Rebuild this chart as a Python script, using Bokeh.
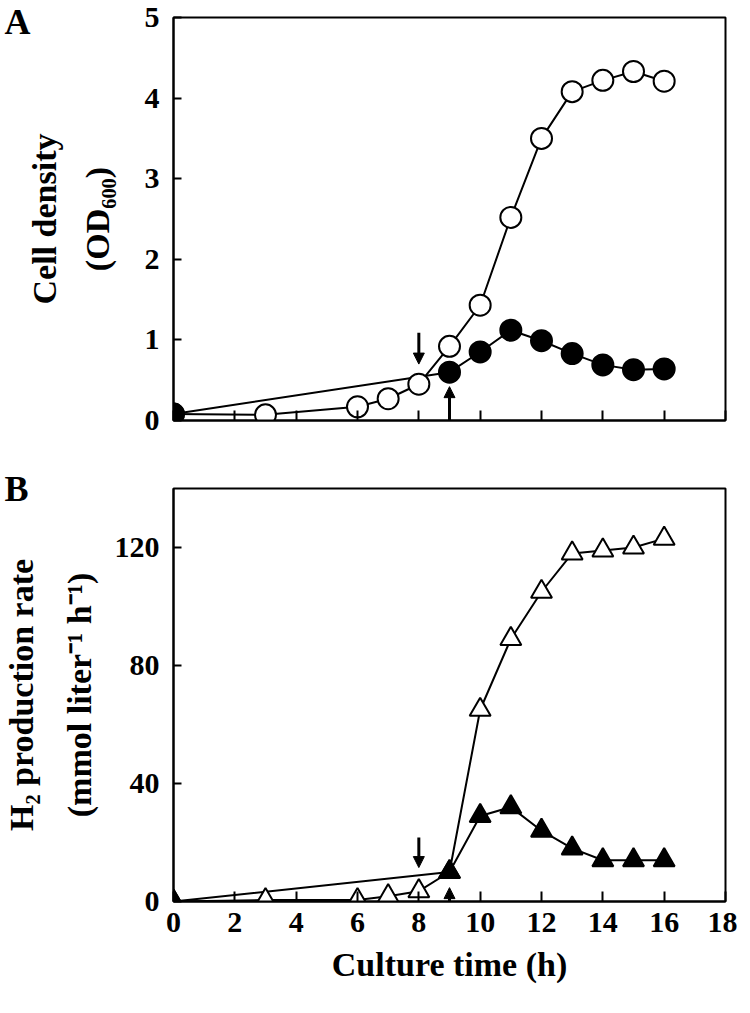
from bokeh.plotting import figure
from bokeh.models import LinearAxis, FixedTicker, Arrow, NormalHead, Range1d
from bokeh.layouts import column
from bokeh.embed import file_html
from bokeh.resources import INLINE

# ---------------- data ----------------
time_open = [0, 3, 6, 7, 8, 9, 10, 11, 12, 13, 14, 15, 16]
od_open = [0.08, 0.07, 0.17, 0.27, 0.45, 0.92, 1.43, 2.52, 3.50, 4.08, 4.22, 4.33, 4.21]
h2_open = [0, 0.5, 0.5, 1.8, 3.5, 10, 65, 89, 105, 118, 119, 120, 123]

time_filled = [0, 9, 10, 11, 12, 13, 14, 15, 16]
od_filled = [0.08, 0.60, 0.85, 1.12, 0.99, 0.83, 0.69, 0.63, 0.64]
h2_filled = [0, 10, 29, 32, 24, 18, 14, 14, 14]

x_ticks = [0, 2, 4, 6, 8, 10, 12, 14, 16, 18]
od_ticks = [0, 1, 2, 3, 4, 5]
h2_ticks = [0, 40, 80, 120]

# arrows: (x, y_start, y_end)
arrows_a = [(8, 1.09, 0.70), (9, 0.0, 0.42)]
arrows_b = [(8, 21.7, 11.5), (9, -6.0, 4.7)]

# panel letters (placed as tick labels of an outer, line-less axis)
panel_a_y = 4.95
panel_b_y = 140

FONT = "Liberation Serif"
TICK_FS = "30px"
LABEL_FS = "34px"
LETTER_FS = "36px"


def style_axis(ax, tick_in):
    ax.axis_line_width = 2
    ax.axis_line_color = "black"
    ax.major_tick_in = tick_in
    ax.major_tick_out = 0
    ax.major_tick_line_width = 2
    ax.major_tick_line_color = "black"
    ax.minor_tick_line_color = None
    ax.major_label_text_font = FONT
    ax.major_label_text_font_style = "bold"
    ax.major_label_text_font_size = TICK_FS
    ax.major_label_text_color = "black"
    ax.axis_label_text_font = FONT
    ax.axis_label_text_font_style = "bold"
    ax.axis_label_text_font_size = LABEL_FS
    ax.axis_label_text_color = "black"


def outer_label_axis(text, letter, letter_y, letter_standoff, label_standoff):
    ax = LinearAxis(ticker=FixedTicker(ticks=[letter_y]), axis_label=text)
    ax.major_label_overrides = {letter_y: letter}
    ax.axis_line_color = None
    ax.major_tick_line_color = None
    ax.minor_tick_line_color = None
    ax.major_tick_in = 0
    ax.major_tick_out = 0
    ax.major_label_text_font = FONT
    ax.major_label_text_font_style = "bold"
    ax.major_label_text_font_size = LETTER_FS
    ax.major_label_text_color = "black"
    ax.major_label_standoff = letter_standoff
    ax.axis_label_standoff = label_standoff
    ax.axis_label_text_font = FONT
    ax.axis_label_text_font_style = "bold"
    ax.axis_label_text_font_size = LABEL_FS
    ax.axis_label_text_color = "black"
    return ax


def make_fig(height, y_end, yticks, b_top, b_bottom):
    p = figure(width=737, height=height, x_range=Range1d(0, 18), y_range=Range1d(0, y_end),
               output_backend="svg", toolbar_location=None,
               min_border_left=164, min_border_right=12,
               min_border_top=b_top, min_border_bottom=b_bottom)
    p.grid.visible = False
    p.outline_line_color = "black"
    p.outline_line_width = 2
    p.outline_line_alpha = 1
    p.xaxis.ticker = FixedTicker(ticks=x_ticks)
    p.yaxis.ticker = FixedTicker(ticks=yticks)
    style_axis(p.xaxis[0], 10)
    style_axis(p.yaxis[0], 8)
    p.xaxis.major_label_standoff = 11
    p.yaxis.major_label_standoff = 14
    p.background_fill_color = "white"
    p.border_fill_color = "white"
    return p


def add_arrows(p, arrows):
    for (x, y0, y1) in arrows:
        p.add_layout(Arrow(end=NormalHead(size=11, fill_color="black", line_color="black", line_width=1),
                           x_start=x, y_start=y0, x_end=x, y_end=y1,
                           line_width=3, line_color="black"))


# ---------------- panel A ----------------
pa = make_fig(454, 5, od_ticks, 17, 34)
pa.xaxis.major_label_overrides = {t: "" for t in x_ticks}
pa.xaxis.major_label_text_font_size = "1px"
pa.xaxis.major_label_standoff = 0
pa.yaxis.axis_label = "(OD\u2086\u2080\u2080)"
pa.yaxis.axis_label_standoff = 26
pa.add_layout(outer_label_axis("Cell density", "A", panel_a_y, 45, -61), "left")

pa.line(time_open, od_open, line_color="black", line_width=2)
pa.line(time_filled, od_filled, line_color="black", line_width=2)
pa.scatter(time_open, od_open, marker="circle", size=21, fill_color="white",
           line_color="black", line_width=2)
pa.scatter(time_filled, od_filled, marker="circle", size=21, fill_color="black",
           line_color="black", line_width=2)
add_arrows(pa, arrows_a)

# ---------------- panel B ----------------
pb = make_fig(537, 140, h2_ticks, 34, 90)
pb.yaxis.axis_label = "(mmol liter\u207b\u00b9 h\u207b\u00b9)"
pb.yaxis.axis_label_standoff = 14
pb.add_layout(outer_label_axis("H\u2082 production rate", "B", panel_b_y, 29, -39), "left")
pb.xaxis.axis_label = "Culture time (h)"
pb.xaxis.axis_label_standoff = 11

pb.line(time_open, h2_open, line_color="black", line_width=2)
pb.line(time_filled, h2_filled, line_color="black", line_width=2)
pb.scatter(time_open, h2_open, marker="triangle", size=21, fill_color="white",
           line_color="black", line_width=2)
pb.scatter(time_filled, h2_filled, marker="triangle", size=21, fill_color="black",
           line_color="black", line_width=2)
add_arrows(pb, arrows_b)

layout = column(pa, pb, spacing=0)
open("out.html", "w").write(file_html(layout, INLINE))
